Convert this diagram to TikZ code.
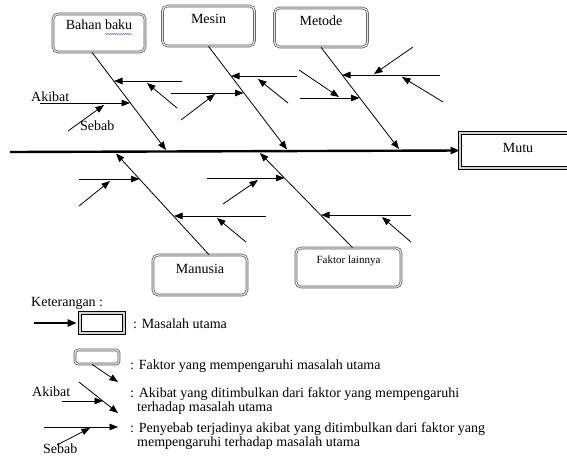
\documentclass[tikz,border=0pt]{standalone}
\usepackage{fontspec}
\setmainfont{Liberation Serif}
\usetikzlibrary{arrows.meta, decorations.pathmorphing}

\begin{document}
\begin{tikzpicture}[x=1pt, y=-1pt, fbox/.style={draw=gray!70!black, double=gray!20, double distance=1.2pt, line width=0.7pt, rounded corners=5pt, inner sep=0pt}, mbox/.style={draw=black, double=gray!35, double distance=2.2pt, line width=0.6pt, inner sep=0pt}, txt/.style={inner sep=0pt, font=\fontsize{14}{16}\selectfont}, n/.style={-{Triangle[length=8.5pt, width=6.5pt]}, line width=0.8pt}, spine/.style={-{Triangle[length=9pt, width=7pt]}, line width=2.4pt}]
                \useasboundingbox (0,0) rectangle (567,459);
                % nodes
                \node[fbox, minimum width=92, minimum height=38, label={[txt, anchor=north, yshift=-6pt]north:Bahan baku}] (bahan) at (99,33) {};
                \node[fbox, minimum width=92, minimum height=40, label={[txt, anchor=north, yshift=-8pt]north:Mesin}] (mesin) at (208.5,26) {};
                \node[fbox, minimum width=93, minimum height=39, label={[txt, anchor=north, yshift=-8pt]north:Metode}] (metode) at (321,27.5) {};
                \node[fbox, minimum width=94, minimum height=40, label={[txt, anchor=north, yshift=-9pt]north:Manusia}] (manusia) at (200,275) {};
                \node[fbox, minimum width=105, minimum height=39, label={[txt, font=\fontsize{11}{13}\selectfont, anchor=north, yshift=-8pt]north:Faktor lainnya}] (lain) at (348.5,267.5) {};
                \node[mbox, minimum width=116, minimum height=35, txt, text depth=6pt] (mutu) at (518,150.5) {Mutu};
                \coordinate (s0) at (10,152);
                % spell check mark
                \draw[blue!80, decorate, decoration={snake, amplitude=0.5pt, segment length=2.2pt}] (105,34) -- (132,34);
                % edges
                \draw[spine] (s0) -- (mutu.west);
                \draw[n] ([xshift=-7pt]bahan.south) -- (166,150) coordinate (b1);
                \draw[n] (mesin.south) -- (287,149.5) coordinate (m1);
                \draw[n] (metode.south) -- (399,149) coordinate (t1);
                \draw[n] ([xshift=9pt]manusia.north) -- (116,153.5) coordinate (u1);
                \draw[n] ([xshift=4pt]lain.north) -- (260,153) coordinate (l1);
                % bahan baku
                \node[txt, anchor=base west] (akibat) at (31,101) {Akibat};
                \node[txt, anchor=base west] (sebab) at (80,130) {Sebab};
                \draw[n] (182,81) coordinate (b2) -- (114,81) coordinate (b3);
                \draw[n] (177,108) coordinate (b4) -- (147,83) coordinate (b5);
                \draw[n] (40,103) coordinate (b6) -- (130,103) coordinate (b7);
                \draw[n] (68,131) coordinate (b8) -- (104,105) coordinate (b9);
                % mesin
                \draw[n] (297,76) coordinate (m2) -- (231,76) coordinate (m3);
                \draw[n] (288,103) coordinate (m4) -- (258,79) coordinate (m5);
                \draw[n] (171,93) coordinate (m6) -- (243.5,93) coordinate (m7);
                \draw[n] (181,120) coordinate (m8) -- (215,94) coordinate (m9);
                % metode
                \draw[n] (440,75) coordinate (t2) -- (342,75) coordinate (t3);
                \draw[n] (413,47) coordinate (t4) -- (374,74) coordinate (t5);
                \draw[n] (443,102) coordinate (t6) -- (402,77) coordinate (t7);
                \draw[n] (300,98) coordinate (t8) -- (359.5,98) coordinate (t9);
                \draw[n] (299,70) coordinate (t10) -- (339,97) coordinate (t11);
                % manusia
                \draw[n] (79,179) coordinate (u2) -- (139.5,179) coordinate (u3);
                \draw[n] (79,206) coordinate (u4) -- (110,181) coordinate (u5);
                \draw[n] (266,216) coordinate (u6) -- (174,216) coordinate (u7);
                \draw[n] (246,242) coordinate (u8) -- (217,218) coordinate (u9);
                % faktor lainnya
                \draw[n] (207,178) coordinate (l2) -- (284.5,178) coordinate (l3);
                \draw[n] (223,204) coordinate (l4) -- (258,180) coordinate (l5);
                \draw[n] (411,215) coordinate (l6) -- (321,215) coordinate (l7);
                \draw[n] (411,242) coordinate (l8) -- (382,217) coordinate (l9);
                % legend
                \node[txt, anchor=base west] (ket) at (31,306) {Keterangan :};
                \node[mbox, minimum width=44, minimum height=20] (lmutu) at (102,323) {};
                \node[fbox, rounded corners=3pt, minimum width=44, minimum height=14] (lfak) at (97,357) {};
                \node[txt, anchor=base west] (tmasalah) at (133,328) {: Masalah utama};
                \node[txt, anchor=base west] (tfaktor) at (130,369) {: Faktor yang mempengaruhi masalah utama};
                \node[txt, anchor=base west] (lakibat) at (32,396) {Akibat};
                \node[txt, anchor=base west] (takibat) at (130,397) {: Akibat yang ditimbulkan dari faktor yang mempengaruhi};
                \node[txt, anchor=base west] (takibatb) at (137,411) {terhadap masalah utama};
                \node[txt, anchor=base west] (lsebab) at (43,453) {Sebab};
                \node[txt, anchor=base west] (tsebab) at (130,432) {: Penyebab terjadinya akibat yang ditimbulkan dari faktor yang};
                \node[txt, anchor=base west] (tsebabb) at (137,446) {mempengaruhi terhadap masalah utama};
                \draw[spine, line width=2.2pt, shorten >=3pt] (34,323) coordinate (la0) -- (lmutu.west);
                \draw[n] ([xshift=-5pt]lfak.south) -- (118,382) coordinate (lf1);
                \draw[n] (62,401) coordinate (la1) -- (103,401) coordinate (la2);
                \draw[n] (79,382) coordinate (la3) -- (118,413) coordinate (la4);
                \draw[n] (44,427) coordinate (ls1) -- (118,427) coordinate (ls2);
                \draw[n] (57,445) coordinate (ls3) -- (90,428) coordinate (ls4);
            \end{tikzpicture}
\end{document}
